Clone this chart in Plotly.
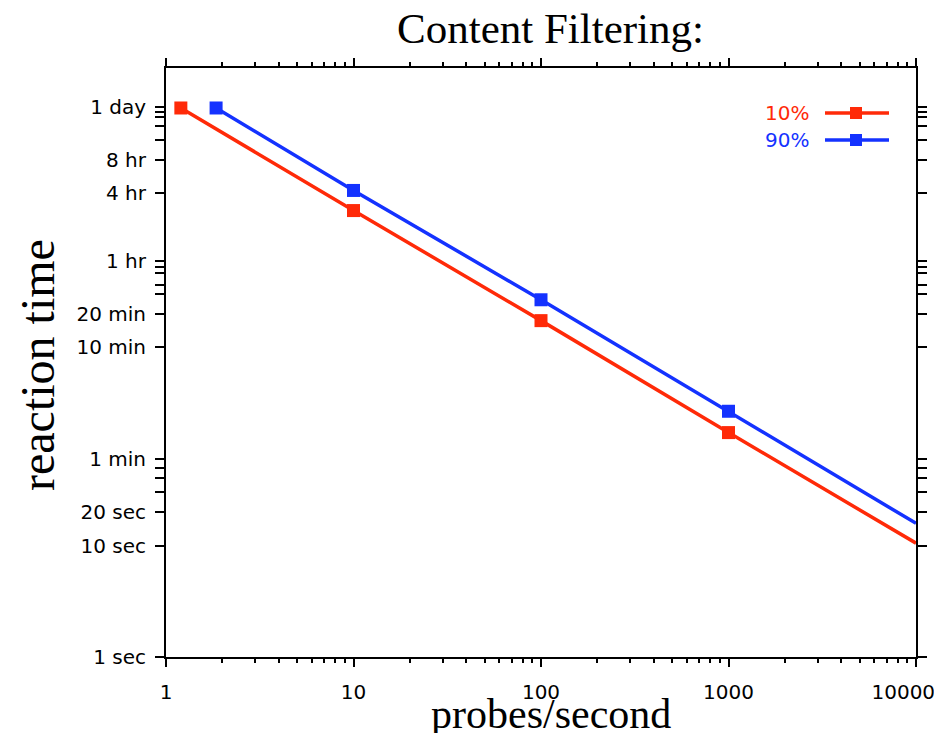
import plotly.graph_objects as go

# ---- data ----
probes_10 = [1.2, 10, 100, 1000, 10000]
time_10 = [84000, 10100, 1040, 103, 10.5]
probes_90 = [1.85, 10, 100, 1000, 10000]
time_90 = [84000, 15300, 1600, 160, 15.8]

series_names = ["10%", "90%"]
series_colors = ["#ff2a08", "#1432ff"]

y_tick_vals = [1, 10, 20, 60, 600, 1200, 3600, 14400, 28800, 86400]
y_tick_text = ["1 sec", "10 sec", "20 sec", "1 min", "10 min", "20 min",
               "1 hr", "4 hr", "8 hr", "1 day"]
y_minor_vals = [30, 40, 50, 1800, 2160, 2760, 3120, 43200, 57600, 70200, 77400]
x_tick_vals = [1, 10, 100, 1000, 10000]
x_tick_text = ["1", "10", "100", "1000", "10000\u00a0\u00a0\u00a0\u00a0"]
x_minor_vals = [m * 10 ** k for k in range(4) for m in range(2, 10)]

L, R, T, B = 166, 18, 68, 76
W, H = 934, 733
PW, PH = W - L - R, H - T - B


def px(x):
    return (x - L) / PW


def py(y):
    return (H - B - y) / PH


fig = go.Figure()
for xs, ys, name, col in [(probes_10, time_10, series_names[0], series_colors[0]),
                          (probes_90, time_90, series_names[1], series_colors[1])]:
    sizes = [13] * (len(xs) - 1) + [0]
    fig.add_trace(go.Scatter(x=xs, y=ys, mode="lines+markers", name=name,
                             line=dict(color=col, width=3.5),
                             marker=dict(symbol="square", size=sizes, color=col,
                                         opacity=1, line=dict(width=0)),
                             showlegend=False))

tickfont = dict(family="DejaVu Sans", size=20, color="black")
fig.update_xaxes(type="log", range=[0, 4], tickvals=x_tick_vals, ticktext=x_tick_text,
                 ticks="outside", ticklen=8, tickwidth=2, tickcolor="black",
                 showline=True, linecolor="black", linewidth=2, mirror="ticks",
                 showgrid=False, zeroline=False, tickfont=tickfont,
                 ticklabelstandoff=8, automargin=False, ticklabeloverflow="allow",
                 minor=dict(tickmode="array", tickvals=x_minor_vals, ticks="outside",
                            ticklen=4, tickwidth=2, tickcolor="black", showgrid=False))
fig.update_yaxes(type="log", range=[0, 5.283], tickvals=y_tick_vals, ticktext=y_tick_text,
                 ticks="outside", ticklen=9, tickwidth=2, tickcolor="black",
                 showline=True, linecolor="black", linewidth=2, mirror="ticks",
                 showgrid=False, zeroline=False, tickfont=tickfont,
                 ticklabelstandoff=5, automargin=False, ticklabeloverflow="allow",
                 minor=dict(tickmode="array", tickvals=y_minor_vals, ticks="outside",
                            ticklen=9, tickwidth=2, tickcolor="black", showgrid=False))

serif = "Liberation Serif, Times New Roman, serif"
annotations = [
    dict(text="Content Filtering:", x=px(550), y=py(28), xref="paper", yref="paper",
         showarrow=False, font=dict(family=serif, size=43, color="black"),
         xanchor="center", yanchor="middle"),
    dict(text="probes/second", x=px(551), y=py(714), xref="paper", yref="paper",
         showarrow=False, font=dict(family=serif, size=42, color="black"),
         xanchor="center", yanchor="middle"),
    dict(text="reaction time", x=px(37), y=py(365), xref="paper", yref="paper",
         showarrow=False, textangle=-90, font=dict(family=serif, size=48, color="black"),
         xanchor="center", yanchor="middle"),
]
shapes = []
legend_y = [113, 140]
for name, col, ly in zip(series_names, series_colors, legend_y):
    annotations.append(dict(text=name, x=px(811), y=py(ly), xref="paper", yref="paper",
                            showarrow=False, xanchor="right", yanchor="middle",
                            font=dict(family="DejaVu Sans", size=20, color=col)))
    shapes.append(dict(type="line", xref="paper", yref="paper",
                       x0=px(825), x1=px(889), y0=py(ly), y1=py(ly),
                       line=dict(color=col, width=3.5)))
    shapes.append(dict(type="rect", xref="paper", yref="paper",
                       x0=px(850), x1=px(862), y0=py(ly + 6), y1=py(ly - 6),
                       fillcolor=col, line=dict(width=0)))

fig.update_layout(template="none", width=W, height=H,
                  margin=dict(l=L, r=R, t=T, b=B, autoexpand=False),
                  paper_bgcolor="white", plot_bgcolor="white",
                  annotations=annotations, shapes=shapes, showlegend=False)

fig.write_html("out.html", config={"displayModeBar": False},
               post_script="document.body.style.margin='0';document.body.style.overflow='hidden';")
